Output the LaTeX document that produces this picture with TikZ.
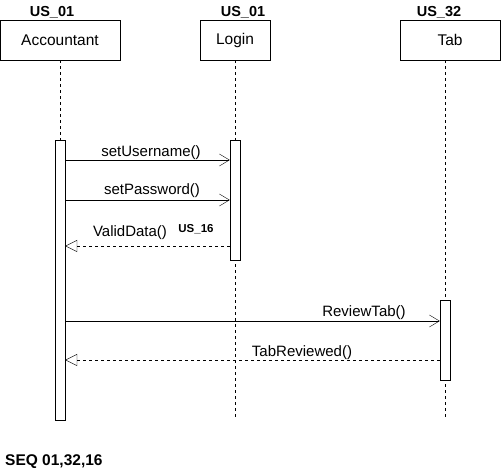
\documentclass[tikz,border=0pt]{standalone}
\usepackage{fontspec}
\setmainfont{Liberation Sans}
\usepackage{xcolor}
\definecolor{seqline}{RGB}{0,0,0}
\usepackage{tikz}
\usetikzlibrary{positioning,arrows.meta}

\begin{document}
\begin{tikzpicture}[x=1pt,y=-1pt,
  actor/.style={draw=seqline,minimum height=40pt,font=\fontsize{15.5}{18}\selectfont,inner sep=0pt},
  bar/.style={draw=seqline,fill=white,minimum width=10pt,inner sep=0pt},
  lifeline/.style={draw=seqline,dash pattern=on 3pt off 3pt},
  call/.style={draw=seqline,-{Straight Barb[length=10pt,width=12pt]}},
  reply/.style={draw=seqline,dash pattern=on 3pt off 3pt,-{Triangle[open,length=12pt,width=12pt]}},
  lbl/.style={font=\fontsize{15}{17}\selectfont,inner sep=1pt},
  tag/.style={font=\bfseries\fontsize{14.5}{17}\selectfont,inner sep=1pt}]
\useasboundingbox (0,0) rectangle (501,471);

% actors
\node[actor,minimum width=120pt] (acc) at (60,40) {Accountant};
\node[actor,minimum width=70pt] (login) at (235,40) {Login};
\node[actor,minimum width=100pt] (tab) at (450,40) {Tab};
\node[tag] (acctag) at (52,12) {US\_01};
\node[tag] (logintag) at (243,12) {US\_01};
\node[tag] (tabtag) at (439,12) {US\_32};

% lifelines
\coordinate (accend) at (60,420);
\coordinate (loginend) at (235,420);
\coordinate (tabend) at (445,420);
\draw[lifeline] (acc.south) -- (accend);
\draw[lifeline] (login.south) -- (loginend);
\draw[lifeline] (tab.south -| tabend) -- (tabend);

% activations
\node[bar,minimum height=280pt] (accbar) at (60,280) {};
\node[bar,minimum height=120pt] (loginbar) at (235,200) {};
\node[bar,minimum height=80pt] (tabbar) at (445,340) {};

% messages
\coordinate (m1) at (0,160);
\coordinate (m2) at (0,200);
\coordinate (m3) at (0,246);
\coordinate (m4) at (0,321);
\coordinate (m5) at (0,360);
\draw[call] (accbar.east |- m1) -- (loginbar.west |- m1);
\draw[call] (accbar.east |- m2) -- (loginbar.west |- m2);
\draw[reply] (loginbar.west |- m3) -- (accbar.east |- m3);
\draw[call] (accbar.east |- m4) -- (tabbar.west |- m4);
\draw[reply] (tabbar.west |- m5) -- (accbar.east |- m5);
\node[lbl] (l1) at (151,153) {setUsername()};
\node[lbl] (l2) at (152,191) {setPassword()};
\node[lbl] (l3) at (130,233) {ValidData()};
\node[tag,font=\bfseries\fontsize{11.5}{13}\selectfont] (l3tag) at (196,229) {US\_16};
\node[lbl] (l4) at (364,313) {ReviewTab()};
\node[lbl] (l5) at (302,353) {TabReviewed()};

\node[tag,anchor=west,font=\bfseries\fontsize{15.5}{18}\selectfont] (seq) at (4,462) {SEQ 01,32,16};
\end{tikzpicture}
\end{document}
